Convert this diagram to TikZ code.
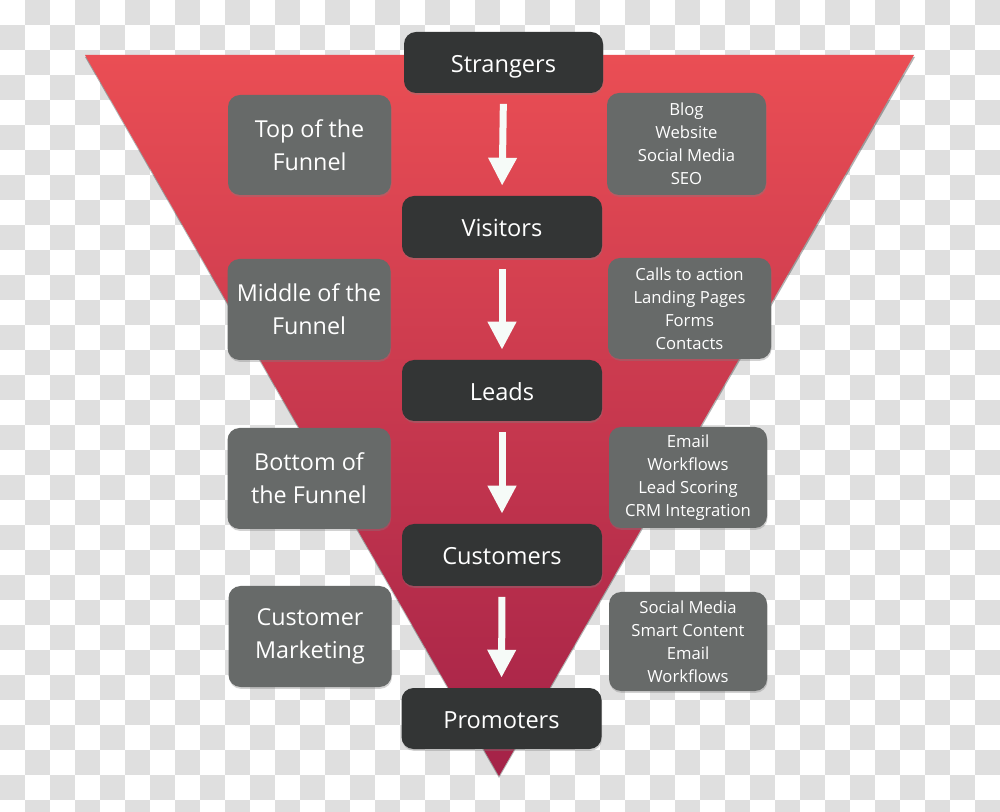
\documentclass[tikz,border=0pt]{standalone}
\usepackage{fontspec}
\setmainfont{Open Sans}
\usetikzlibrary{arrows.meta,shadows}
\definecolor{chk}{RGB}{223,223,223}
\definecolor{funtop}{RGB}{234,78,84}
\definecolor{funbot}{RGB}{164,34,72}
\definecolor{darkbox}{RGB}{51,53,53}
\definecolor{graybox}{RGB}{103,106,105}
\definecolor{arrwhite}{RGB}{246,251,248}
\tikzset{
  stage/.style={rectangle, rounded corners=9pt, fill=darkbox, text=white,
    inner sep=0pt, font=\fontsize{17.7}{22}\selectfont,
    text height=14.5pt, text depth=0pt,
    drop shadow={opacity=0.35, shadow xshift=0.4pt, shadow yshift=-1.4pt}},
  leftbox/.style={rectangle, rounded corners=9pt, fill=graybox, text=white,
    inner sep=0pt, align=center, font=\fontsize{17.5}{24.75}\selectfont,
    drop shadow={opacity=0.35, shadow xshift=0.4pt, shadow yshift=-1.4pt}},
  rightbox/.style={rectangle, rounded corners=9pt, fill=graybox, text=white,
    inner sep=0pt, align=center, font=\fontsize{12.5}{17.25}\selectfont,
    drop shadow={opacity=0.35, shadow xshift=0.4pt, shadow yshift=-1.4pt}},
  flowarrow/.style={draw=arrwhite, line width=5.25pt,
    -{Triangle[width=20.25pt,length=21pt,fill=arrwhite]},
    shorten <=8pt, shorten >=7.5pt},
}
\begin{document}
\begin{tikzpicture}[x=0.75pt,y=-0.75pt]
\useasboundingbox (0,0) rectangle (1000,812);
% transparency checkerboard
\fill[white] (0,0) rectangle (1000,812);
\begin{scope}
\clip (0,0) rectangle (1000,812);
\foreach \i in {0,...,39}{
  \foreach \j in {0,...,32}{
    \pgfmathtruncatemacro\k{mod(\i+\j,2)}
    \ifnum\k=1 \fill[chk] (\i*25,\j*25) rectangle ++(25,25); \fi
  }
}
\end{scope}
% funnel
\fill[black, opacity=0.3] (85,57) -- (915,57) -- (499,778) -- cycle;
\shade[top color=funtop, bottom color=funbot] (85,55) -- (914,55) -- (499,776) -- cycle;
% stages
\node[stage, minimum width=149.25pt, minimum height=45.75pt] (strangers) at (503.5,62.5) {Strangers};
\node[stage, minimum width=150pt, minimum height=46.5pt] (visitors) at (502,227) {Visitors};
\node[stage, minimum width=150pt, minimum height=45.75pt] (leads) at (502,390.5) {Leads};
\node[stage, minimum width=150pt, minimum height=46.5pt] (customers) at (502,555) {Customers};
\node[stage, minimum width=150pt, minimum height=45.75pt] (promoters) at (501.5,718.5) {Promoters};
% arrows
\draw[flowarrow] (strangers.south) -- (visitors.north);
\draw[flowarrow] (visitors.south) -- (leads.north);
\draw[flowarrow] (leads.south) -- (customers.north);
\draw[flowarrow] (customers.south) -- (promoters.north);
% left boxes
\node[leftbox, minimum width=122.25pt, minimum height=75pt] (tof) at (309.5,145) {Top of the\\Funnel};
\node[leftbox, minimum width=122.25pt, minimum height=75.75pt] (mof) at (309,309.5) {Middle of the\\Funnel};
\node[leftbox, minimum width=122.25pt, minimum height=75.75pt] (bof) at (309,478.5) {Bottom of\\the Funnel};
\node[leftbox, minimum width=122.25pt, minimum height=75.75pt] (cm) at (310,636.5) {Customer\\Marketing};
% right boxes
\node[rightbox, minimum width=119.25pt, minimum height=76.5pt] (r1) at (686.5,144) {Blog\\Website\\Social Media\\SEO};
\node[rightbox, minimum width=122.25pt, minimum height=75.75pt] (r2) at (689.5,308.5) {Calls to action\\Landing Pages\\Forms\\Contacts};
\node[rightbox, minimum width=118.5pt, minimum height=75.75pt] (r3) at (688,477.5) {Email\\Workflows\\Lead Scoring\\CRM Integration};
\node[rightbox, minimum width=118.5pt, minimum height=74.25pt] (r4) at (688,641.5) {Social Media\\Smart Content\\Email\\Workflows};
\end{tikzpicture}
\end{document}
